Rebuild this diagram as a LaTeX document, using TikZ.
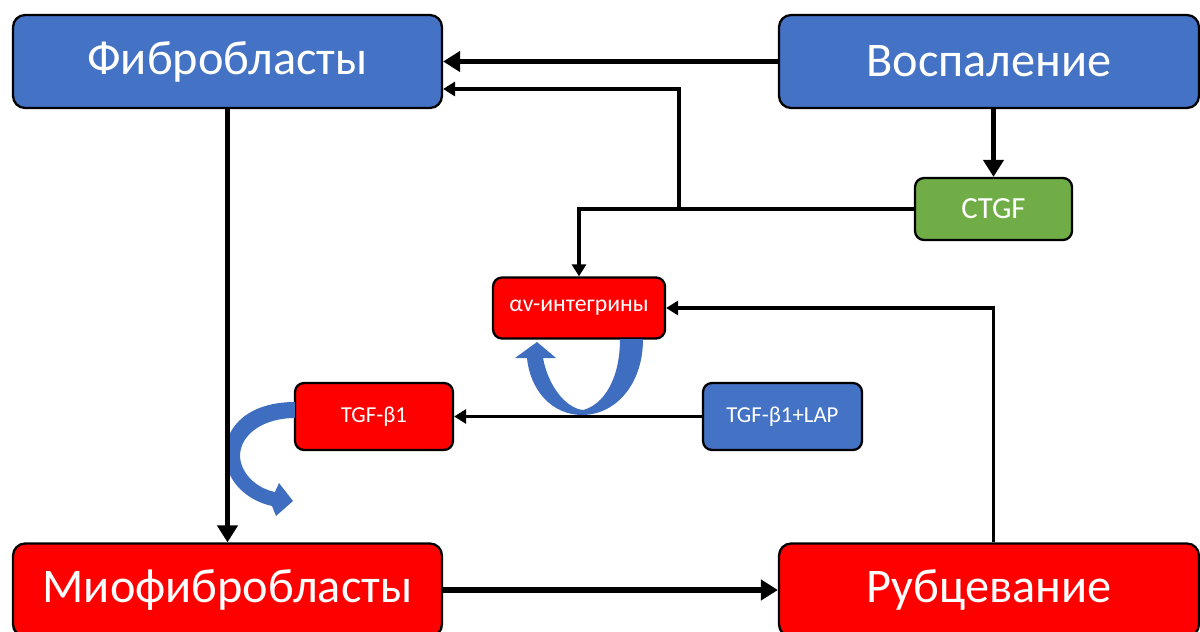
\documentclass[tikz,border=0pt]{standalone}
\usepackage{fontspec}
\setmainfont{Carlito}
\usetikzlibrary{arrows.meta}
\definecolor{boxblue}{HTML}{4472C4}
\definecolor{boxred}{HTML}{FF0000}
\definecolor{boxgreen}{HTML}{70AD47}
\definecolor{curveblue}{HTML}{3F6DBF}
\begin{document}
\begin{tikzpicture}
[x=0.02cm,y=-0.02cm,
  bigbox/.style={shape=rectangle,rounded corners=0.24cm,draw,line width=1.3pt,
    text=white,minimum height=1.86cm,inner sep=0pt,font=\fontsize{27.5}{31}\selectfont},%
  smallbox/.style={shape=rectangle,rounded corners=0.18cm,draw,line width=1.3pt,
    text=white,inner sep=0pt},%
  thickline/.style={-{Triangle[length=0.34cm,width=0.4cm]},line width=3.2pt},%
  thinline/.style={-{Triangle[length=0.24cm,width=0.28cm]},line width=1.9pt}]
\useasboundingbox (0,0) rectangle (1200,632);
\clip (0,0) rectangle (1200,632);
%% big boxes
\foreach \nodename/\x/\y/\w/\col/\txt in {fib/227.5/61.5/8.58/boxblue/Фибробласты,
  vosp/989/61.5/8.4/boxblue/Воспаление, myo/227.5/590/8.58/boxred/Миофибробласты,
  rub/989/590/8.4/boxred/Рубцевание} {
  \node (\nodename) at (\x,\y) [bigbox,fill=\col,minimum width=\w cm] {\txt};
}
%% small boxes
\node (ctgf) at (993.5,209) [smallbox,fill=boxgreen,minimum width=3.14cm,
  minimum height=1.24cm,font=\fontsize{17.5}{20}\selectfont] {CTGF};
\node (integ) at (579,308) [smallbox,fill=boxred,minimum width=3.44cm,
  minimum height=1.22cm,font=\fontsize{13.5}{16}\selectfont] {αv-интегрины};
\node (tgf) at (374,416.5) [smallbox,fill=boxred,minimum width=3.16cm,
  minimum height=1.34cm,font=\fontsize{13}{15}\selectfont] {TGF-β1};
\node (lap) at (782.5,416.5) [smallbox,fill=boxblue,minimum width=3.18cm,
  minimum height=1.34cm,font=\fontsize{13}{15}\selectfont] {TGF-β1+LAP};
%% curved block arrows
\fill[curveblue] (643,339) .. controls (643,385) and (615,415) .. (582,415)
  .. controls (552,415) and (530,390) .. (527,358) -- (515,358) -- (537,342)
  -- (556,358) -- (543,358) .. controls (548,385) and (565,408) .. (583,410)
  .. controls (603,405) and (620,380) .. (620,339) -- cycle;
\fill[curveblue] (295,402) .. controls (250,402) and (225,425) .. (225,455)
  .. controls (226,480) and (245,500) .. (272,506) -- (276,516) -- (293,501)
  -- (279,483) -- (275,492) .. controls (255,488) and (240,472) .. (240,455)
  .. controls (241,433) and (265,418) .. (295,418) -- cycle;
%% edges or lines
\path
\foreach \startnode/\endnode in {vosp.west/fib.east, fib.south/myo.north,
  myo.east/rub.west} {
  (\startnode) edge[thickline] (\endnode)
};
\draw[thickline] (vosp.south -| ctgf.north) -- (ctgf.north);
\coordinate (split) at (679,209);
\coordinate (bend) at (679,89);
\draw[thinline] (ctgf.west) -- (split) -- (bend) -- (bend -| fib.east);
\draw[thinline] (split) -| (integ.north);
\draw[thinline] (rub.north -| ctgf.north) |- (integ.east);
\draw[thinline] (lap.west) -- (tgf.east);
\end{tikzpicture}
\end{document}
